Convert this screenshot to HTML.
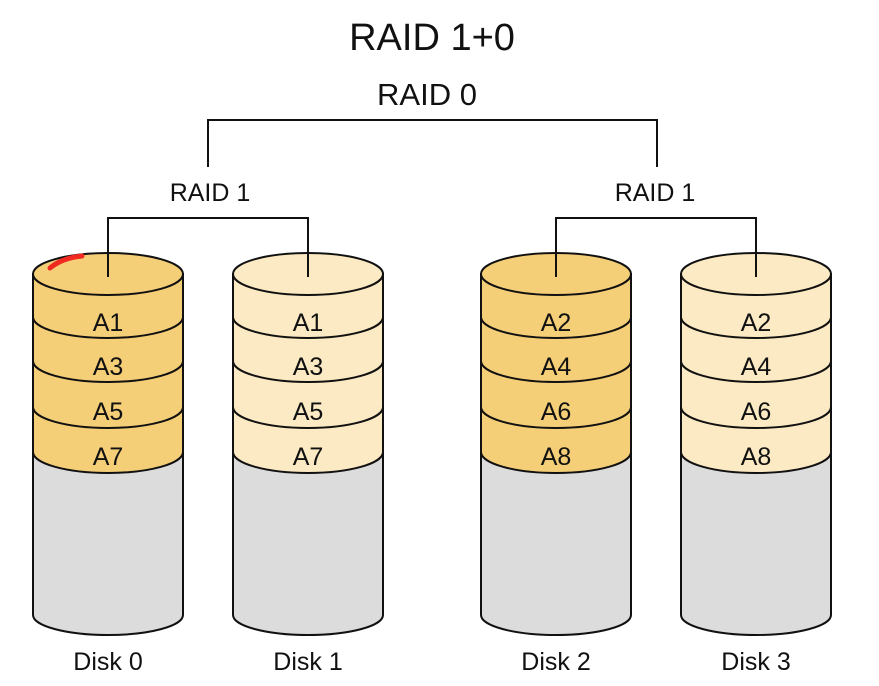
<!DOCTYPE html>
<html><head><meta charset="utf-8"><style>
html,body{margin:0;padding:0;background:#fff;}
svg{display:block;font-family:"Liberation Sans",sans-serif;}
</style></head><body>
<svg width="879" height="686" viewBox="0 0 879 686" xmlns="http://www.w3.org/2000/svg">
<rect width="879" height="686" fill="#fff"/>
<text x="432" y="50" font-size="38" text-anchor="middle" fill="#111">RAID 1+0</text>
<text x="427" y="105" font-size="31" text-anchor="middle" fill="#111">RAID 0</text>
<path d="M208,167 V120 H657 V167" fill="none" stroke="#111" stroke-width="2"/>
<text x="210" y="201" font-size="25" text-anchor="middle" fill="#111">RAID 1</text>
<text x="655" y="201" font-size="25" text-anchor="middle" fill="#111">RAID 1</text>
<g stroke="#111" stroke-width="2">
<g>
<path d="M33,274 V615 A75,20 0 0 0 183,615 V274 Z" fill="#dcdcdc"/>
<path d="M33,274 V452 A75,21 0 0 0 183,452 V274 Z" fill="#f5cf78"/>
<path d="M33,317 A75,21 0 0 0 183,317 M33,361 A75,21 0 0 0 183,361 M33,407 A75,21 0 0 0 183,407" fill="none"/>
<ellipse cx="108" cy="274" rx="75" ry="21" fill="#f5cf78"/>
</g>
<g transform="translate(200,0)">
<path d="M33,274 V615 A75,20 0 0 0 183,615 V274 Z" fill="#dcdcdc"/>
<path d="M33,274 V452 A75,21 0 0 0 183,452 V274 Z" fill="#fbeac3"/>
<path d="M33,317 A75,21 0 0 0 183,317 M33,361 A75,21 0 0 0 183,361 M33,407 A75,21 0 0 0 183,407" fill="none"/>
<ellipse cx="108" cy="274" rx="75" ry="21" fill="#fbeac3"/>
</g>
<g transform="translate(448,0)">
<path d="M33,274 V615 A75,20 0 0 0 183,615 V274 Z" fill="#dcdcdc"/>
<path d="M33,274 V452 A75,21 0 0 0 183,452 V274 Z" fill="#f5cf78"/>
<path d="M33,317 A75,21 0 0 0 183,317 M33,361 A75,21 0 0 0 183,361 M33,407 A75,21 0 0 0 183,407" fill="none"/>
<ellipse cx="108" cy="274" rx="75" ry="21" fill="#f5cf78"/>
</g>
<g transform="translate(648,0)">
<path d="M33,274 V615 A75,20 0 0 0 183,615 V274 Z" fill="#dcdcdc"/>
<path d="M33,274 V452 A75,21 0 0 0 183,452 V274 Z" fill="#fbeac3"/>
<path d="M33,317 A75,21 0 0 0 183,317 M33,361 A75,21 0 0 0 183,361 M33,407 A75,21 0 0 0 183,407" fill="none"/>
<ellipse cx="108" cy="274" rx="75" ry="21" fill="#fbeac3"/>
</g>
<path d="M108,277 V218 H308 V277 M556,277 V218 H756 V277" fill="none"/>
</g>
<path d="M50,268 Q62,258 82,256" stroke="#f02a20" stroke-width="5" fill="none" stroke-linecap="round"/>
<g font-size="25" text-anchor="middle" fill="#111">
<text x="108" y="331">A1</text><text x="108" y="375">A3</text><text x="108" y="420">A5</text><text x="108" y="465">A7</text>
<text x="308" y="331">A1</text><text x="308" y="375">A3</text><text x="308" y="420">A5</text><text x="308" y="465">A7</text>
<text x="556" y="331">A2</text><text x="556" y="375">A4</text><text x="556" y="420">A6</text><text x="556" y="465">A8</text>
<text x="756" y="331">A2</text><text x="756" y="375">A4</text><text x="756" y="420">A6</text><text x="756" y="465">A8</text>
</g>
<g font-size="25" text-anchor="middle" fill="#111">
<text x="108" y="670">Disk 0</text><text x="308" y="670">Disk 1</text><text x="556" y="670">Disk 2</text><text x="756" y="670">Disk 3</text>
</g>
</svg>
</body></html>
